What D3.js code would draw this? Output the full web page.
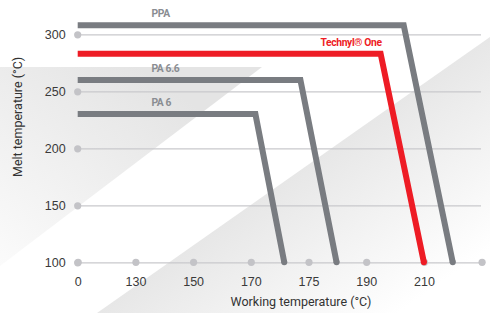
<!DOCTYPE html>
<html>
<head>
<meta charset="utf-8">
<script src="https://cdn.jsdelivr.net/npm/d3@7"></script>
<style>
  html, body { margin: 0; padding: 0; background: #fff; }
  svg { display: block; font-family: Roboto, "Open Sans", sans-serif; }
</style>
</head>
<body>
<div id="chart"></div>
<script>
// working temperature ticks (axis is not linear, every tick gets equal room)
var workTicks = [0, 130, 150, 170, 175, 190, 210, 230];
var workLabels = ['0', '130', '150', '170', '175', '190', '210', ''];
var meltTicks = [100, 150, 200, 250, 300];

// [working temp, melt temp]
var ppa = [[0, 308], [203, 308], [220, 100]];
var technylOne = [[0, 283], [195, 283], [210, 100]];
var pa66 = [[0, 260], [174.3, 260], [182.3, 100]];
var pa6 = [[0, 230], [170.4, 230], [172.9, 100]];

var seriesNames = ['PPA', 'Technyl\u00ae One', 'PA 6.6', 'PA 6'];
var seriesData = [ppa, technylOne, pa66, pa6];

var width = 490, height = 313;
var left = 77.7, step = 57.7, right = 481;
var gray = '#797c81', red = '#ee1c25';

var svg = d3.select('#chart').append('svg')
    .attr('width', width)
    .attr('height', height);

var defs = svg.append('defs');
var g1 = defs.append('linearGradient').attr('id', 'bg1')
    .attr('gradientUnits', 'userSpaceOnUse')
    .attr('x1', 140).attr('y1', 67).attr('x2', 0).attr('y2', 266);
g1.append('stop').attr('offset', 0).attr('stop-color', '#e4e4e4');
g1.append('stop').attr('offset', 1).attr('stop-color', '#fbfbfb');

var g2 = defs.append('linearGradient').attr('id', 'bg2')
    .attr('gradientUnits', 'userSpaceOnUse')
    .attr('x1', 300).attr('y1', 170).attr('x2', 400).attr('y2', 312);
g2.append('stop').attr('offset', 0).attr('stop-color', '#e7e7e7');
g2.append('stop').attr('offset', 1).attr('stop-color', '#ffffff');

// background wedges
svg.append('path')
    .attr('d', 'M0,67L262,67L0,266Z')
    .attr('fill', 'url(#bg1)');
svg.append('path')
    .attr('d', 'M97,313L490,37L490,313Z')
    .attr('fill', 'url(#bg2)');

var x = d3.scaleLinear()
    .domain(workTicks)
    .range(workTicks.map((d, i) => left + i * step));

var y = d3.scaleLinear()
    .domain([100, 300])
    .range([262.3, 34.3]);

// y axis + grid
var yAxis = svg.append('g')
    .attr('transform', 'translate(' + left + ',0)')
    .call(d3.axisLeft(y).tickValues(meltTicks).tickSize(-(right - left)).tickPadding(12));
yAxis.select('.domain').remove();
yAxis.selectAll('.tick line').attr('stroke', '#c9c9cc').attr('stroke-width', 1.2);
yAxis.selectAll('.tick text')
    .attr('fill', '#3a3a3a')
    .style('font-size', '12.5px');
yAxis.selectAll('.tick').append('circle')
    .attr('r', 3.6)
    .attr('fill', '#c3c3c7');

// x axis
var xAxis = svg.append('g')
    .attr('transform', 'translate(0,' + y(100) + ')')
    .call(d3.axisBottom(x).tickValues(workTicks)
        .tickFormat((d, i) => workLabels[i]).tickSize(0).tickPadding(14.5));
xAxis.select('.domain').remove();
xAxis.selectAll('.tick text')
    .attr('fill', '#3a3a3a')
    .style('font-size', '12.5px');
xAxis.selectAll('.tick').append('circle')
    .attr('r', 3.6)
    .attr('fill', '#c3c3c7');

// series lines
var line = d3.line().x(d => x(d[0])).y(d => y(d[1]));

seriesData.forEach(function(data, i) {
    var col = i === 1 ? red : gray;
    svg.append('path')
        .datum(data)
        .attr('d', line)
        .attr('fill', 'none')
        .attr('stroke', col)
        .attr('stroke-width', 6)
        .attr('stroke-linejoin', 'miter');
    var last = data[data.length - 1];
    svg.append('circle')
        .attr('cx', x(last[0]))
        .attr('cy', y(last[1]))
        .attr('r', 3)
        .attr('fill', col);
});

// series labels
seriesData.forEach(function(data, i) {
    var isRed = i === 1;
    svg.append('text')
        .attr('x', isRed ? x(data[1][0]) + 1 : x(130) + 16)
        .attr('y', y(data[0][1]) - 8)
        .attr('text-anchor', isRed ? 'end' : 'start')
        .attr('fill', isRed ? red : '#8a8d92')
        .style('font-size', '10.3px')
        .style('font-weight', 'bold')
        .style('letter-spacing', '-0.35px')
        .text(seriesNames[i]);
});

// axis titles
svg.append('text')
    .attr('x', 301)
    .attr('y', 306)
    .attr('text-anchor', 'middle')
    .attr('fill', '#333')
    .style('font-size', '12.5px')
    .text('Working temperature (\u00b0C)');

svg.append('text')
    .attr('transform', 'translate(22,117) rotate(-90)')
    .attr('text-anchor', 'middle')
    .attr('fill', '#333')
    .style('font-size', '12.5px')
    .text('Melt temperature (\u00b0C)');
</script>
</body>
</html>
